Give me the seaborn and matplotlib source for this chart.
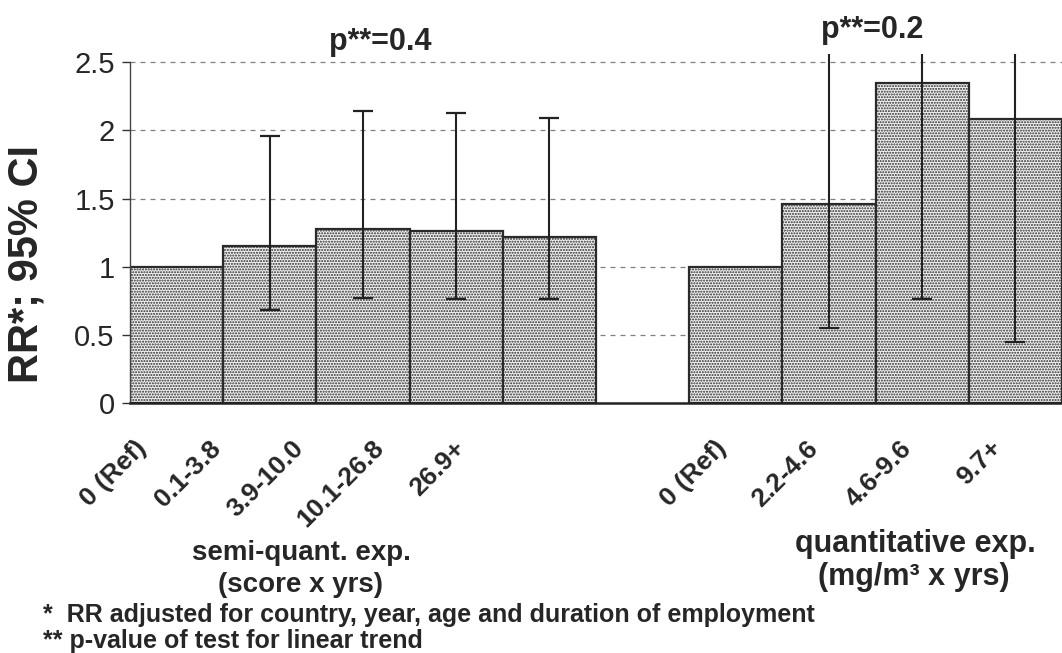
import numpy as np
import pandas as pd
import matplotlib
matplotlib.use("Agg")
import matplotlib.pyplot as plt
import seaborn as sns

# ---- data ----
semi_labels = ["0 (Ref)", "0.1-3.8", "3.9-10.0", "10.1-26.8", "26.9+"]
semi_rr = [1.0, 1.15, 1.28, 1.26, 1.22]
semi_lo = [np.nan, 0.68, 0.77, 0.76, 0.76]
semi_hi = [np.nan, 1.96, 2.14, 2.13, 2.09]

quant_labels = ["0 (Ref)", "2.2-4.6", "4.6-9.6", "9.7+"]
quant_rr = [1.0, 1.46, 2.35, 2.08]
quant_lo = [np.nan, 0.55, 0.76, 0.45]
quant_hi = [np.nan, 3.9, 6.8, 9.5]  # upper limits run off the top of the chart

p_trend = ["p**=0.4", "p**=0.2"]
group_titles = ["semi-quant. exp.\n(score x yrs)", "quantitative exp.\n(mg/m\u00b3 x yrs)"]
footnotes = ["*  RR adjusted for country, year, age and duration of employment",
             "** p-value of test for linear trend"]

# one table, unique keys per group, empty slot between the two groups
df = pd.DataFrame({
    "key": ["semi|" + s for s in semi_labels] + ["quant|" + s for s in quant_labels],
    "label": semi_labels + quant_labels,
    "rr": semi_rr + quant_rr,
    "lo": semi_lo + quant_lo,
    "hi": semi_hi + quant_hi,
})
order = list(df["key"][:len(semi_labels)]) + ["gap"] + list(df["key"][len(semi_labels):])

sns.set_style("white")
plt.rcParams['font.family'] = ['Liberation Sans', 'DejaVu Sans']
plt.rcParams['hatch.linewidth'] = 1.0

fig = plt.figure(figsize=(10.62, 6.53), dpi=100)
ax = fig.add_axes([130 / 1062, 250 / 653, 932 / 1062, 349 / 653])

sns.barplot(data=df, x="key", y="rr", order=order, width=1.0, color="#f2f2f2",
            saturation=1, edgecolor="#2a2a2a", linewidth=1.6, hatch="......",
            errorbar=None, ax=ax)

# confidence intervals
xpos = np.array([order.index(k) for k in df["key"]])
rr = df["rr"].to_numpy()
ax.errorbar(xpos, rr, yerr=[rr - df["lo"].to_numpy(), df["hi"].to_numpy() - rr],
            fmt="none", ecolor="#222222", elinewidth=1.5, capsize=7, capthick=1.6)

ax.set_xlim(-0.5, len(order) - 0.5)
ax.set_ylim(0, 2.56)
ax.set_yticks([0, 0.5, 1, 1.5, 2, 2.5])
ax.set_yticklabels(["0", "0.5", "1", "1.5", "2", "2.5"])
ax.yaxis.grid(True, linestyle=(0, (4, 4)), color="#808080", linewidth=0.9)
ax.set_axisbelow(True)
ax.tick_params(axis="y", left=True, length=6, width=1, color="#333333",
               direction="out", pad=5, labelsize=21)

# rotated category labels, shifted left the way the original sits
shift = [-0.36, -0.56, -0.68, -0.82, -0.94, -0.14, -0.16, -0.15, -0.19]
ax.set_xticks(xpos + np.array(shift))
ax.set_xticklabels(df["label"], rotation=45, ha="right", va="center",
                   rotation_mode="anchor", fontweight="bold", fontsize=19)
ax.tick_params(axis="x", length=0, pad=30)
ax.set_xlabel("")
ax.set_ylabel("")

for side in ["top", "right"]:
    ax.spines[side].set_visible(False)
ax.spines["left"].set_bounds(0, 2.5)
ax.spines["left"].set_color("#444444")
ax.spines["left"].set_linewidth(1.0)
ax.spines["bottom"].set_color("#222222")
ax.spines["bottom"].set_linewidth(1.8)

# trend p-values above each group
ax.text(2.18, 2.59, p_trend[0], ha="center", va="baseline", fontsize=22,
        fontweight="bold", clip_on=False)
ax.text(7.46, 2.68, p_trend[1], ha="center", va="baseline", fontsize=22,
        fontweight="bold", clip_on=False)

fig.text(27 / 1062, 1 - 264 / 653, "RR*; 95% CI", rotation=90, ha="center",
         va="center", fontsize=30, fontweight="bold")

# group titles under the tick labels
left_t, right_t = group_titles[0].split("\n"), group_titles[1].split("\n")
fig.text(301 / 1062, 1 - 560 / 653, left_t[0], ha="center", va="baseline",
         fontsize=20, fontweight="bold")
fig.text(301 / 1062, 1 - 592 / 653, left_t[1], ha="center", va="baseline",
         fontsize=20, fontweight="bold")
fig.text(915 / 1062, 1 - 552 / 653, right_t[0], ha="center", va="baseline",
         fontsize=22, fontweight="bold")
fig.text(914 / 1062, 1 - 585 / 653, right_t[1], ha="center", va="baseline",
         fontsize=22, fontweight="bold")

fig.text(43 / 1062, 1 - 622 / 653, footnotes[0], ha="left", va="baseline",
         fontsize=18, fontweight="bold")
fig.text(43 / 1062, 1 - 648 / 653, footnotes[1], ha="left", va="baseline",
         fontsize=18, fontweight="bold")

fig.savefig("out.png", dpi=100)
